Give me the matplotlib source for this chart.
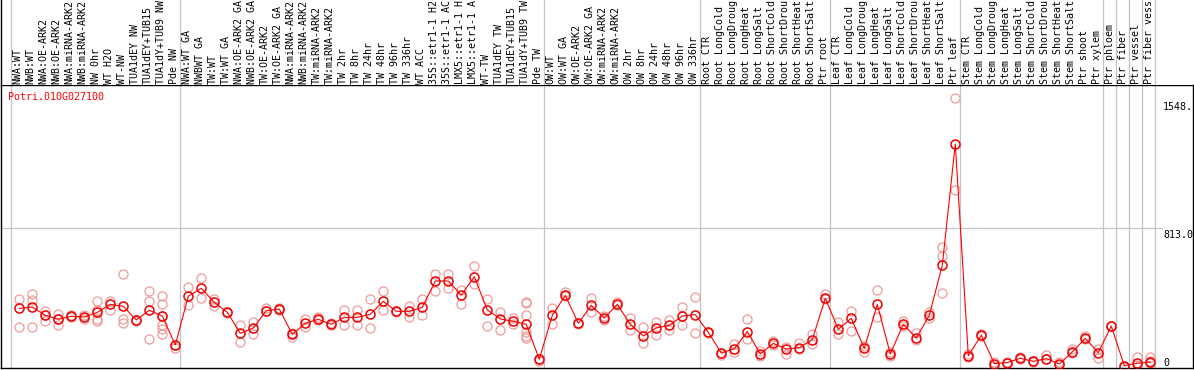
import numpy as np
import matplotlib
matplotlib.use("Agg")
import matplotlib.pyplot as plt
from matplotlib.transforms import offset_copy

gene = "Potri.010G027100"

samples = [
    "NWA:WT", "NWB:WT", "NWA:OE-ARK2", "NWB:OE-ARK2", "NWA:miRNA-ARK2", "NWB:miRNA-ARK2",
    "NW 0hr", "WT H2O", "WT-NW", "TUA1dEY NW", "TUA1dEY+TUB15", "TUA1dY+TUB9 NW", "Pde NW",
    "NWA:WT GA", "NWBWT GA", "TW:WT", "TW:WT GA", "NWA:OE-ARK2 GA", "NWB:OE-ARK2 GA",
    "TW:OE-ARK2", "TW:OE-ARK2 GA", "NWA:miRNA-ARK2", "NWB:miRNA-ARK2", "TW:miRNA-ARK2",
    "TW:miRNA-ARK2", "TW 2hr", "TW 8hr", "TW 24hr", "TW 48hr", "TW 96hr", "TW 336hr",
    "WT ACC", "35S::etr1-1 H2", "35S::etr1-1 AC", "LMX5::etr1-1 H", "LMX5::etr1-1 A",
    "WT-TW", "TUA1dEY TW", "TUA1dEY+TUB15", "TUA1dY+TUB9 TW", "Pde TW",
    "OW:WT", "OW:WT GA", "OW:OE-ARK2", "OW:OE-ARK2 GA", "OW:miRNA-ARK2", "OW:miRNA-ARK2",
    "OW 2hr", "OW 8hr", "OW 24hr", "OW 48hr", "OW 96hr", "OW 336hr",
    "Root CTR", "Root LongCold", "Root LongDroug", "Root LongHeat", "Root LongSalt",
    "Root ShortCold", "Root ShortDrou", "Root ShortHeat", "Root ShortSalt", "Ptr root",
    "Leaf CTR", "Leaf LongCold", "Leaf LongDroug", "Leaf LongHeat", "Leaf LongSalt",
    "Leaf ShortCold", "Leaf ShortDrou", "Leaf ShortHeat", "Leaf ShortSalt", "Ptr leaf",
    "Stem CTR", "Stem LongCold", "Stem LongDroug", "Stem LongHeat", "Stem LongSalt",
    "Stem ShortCold", "Stem ShortDrou", "Stem ShortHeat", "Stem ShortSalt", "Ptr shoot",
    "Ptr xylem", "Ptr phloem", "Ptr fiber", "Ptr vessel", "Ptr fiber vess",
]

means = [
    350, 358, 310, 287, 304, 300, 327, 373, 362, 283, 339, 306, 139,
    420, 466, 385, 327, 206, 237, 337, 346, 200, 264, 287, 258, 298, 298, 316,
    391, 333, 333, 356, 508, 508, 427, 533, 341, 289, 275, 258, 56,
    310, 425, 264, 368, 294, 373, 258, 191, 237, 252, 306, 314,
    212, 92, 117, 216, 87, 148, 115, 123, 169, 408,
    229, 293, 119, 373, 87, 258, 179, 310, 599, 1299,
    77, 195, 31, 37, 62, 44, 60, 29, 98, 177, 94, 248, 19, 33, 40,
]

replicates = [
    [402, 242], [433, 397, 242], [335, 310, 275], [318, 287, 252], [310, 300],
    [312, 287], [391, 342, 287, 279], [393, 342], [547, 289, 266], [283, 280],
    [449, 394, 173], [420, 373, 304, 254, 231, 204], [139, 123],
    [472, 368], [524, 408], [404, 364], [330, 325], [252, 158], [271, 200],
    [350, 337], [350, 341], [210, 187], [290, 244], [302, 281], [266, 252],
    [339, 256], [339, 256], [402, 235], [449, 339], [336, 330], [365, 300],
    [402, 314], [548, 450], [548, 466], [458, 373], [593, 489], [402, 248],
    [327, 225], [296, 260], [389, 379, 310, 212, 191, 177], [56, 46],
    [352, 262], [446, 420], [266, 262], [410, 331], [306, 281], [389, 370],
    [294, 227], [242, 148], [271, 196], [281, 227], [358, 252], [416, 210],
    [214, 210], [92, 81], [144, 100], [289, 171], [106, 73], [162, 140],
    [127, 85], [148, 115], [204, 146], [433, 402],
    [270, 200], [335, 219], [133, 96], [456, 300], [96, 75], [279, 248],
    [206, 167], [327, 296], [703, 653, 437], [1563, 1033],
    [87, 68], [202, 191], [39, 17], [39, 35], [71, 58], [46, 42], [81, 56],
    [39, 21], [115, 94], [189, 171], [114, 62], [250, 246], [19, 14],
    [69, 23], [68, 46, 33],
]

# last sample index of each block (gray separators)
group_ends = [12, 40, 52, 62, 72, 83, 84, 85, 86, 87]
y_ticks = [1548, 813, 0]
y_tick_labels = ["1548.", "813.0", "0"]

W, H = 1194, 370
fig = plt.figure(figsize=(W / 100, H / 100), dpi=100)
plt.rcParams["font.family"] = "DejaVu Sans Mono"
fs = 7.2
grid_c = "#c4c4c4"
rep_c = "#f09a9a"

xlim = ((1 - 19.3) / 13, (1193 - 19.3) / 13)
ax = fig.add_axes([1 / W, 2 / H, 1192 / W, 283 / H])
hx = fig.add_axes([1 / W, 285 / H, 1192 / W, 85 / H], sharex=ax)
ax.set_xlim(*xlim)
ax.set_ylim((369 - 368) / 0.1732, (369 - 85) / 0.1732)
hx.set_ylim(85, 0)

for a in (ax, hx):
    a.set_xticks([])
    a.set_yticks([])
    for s in a.spines.values():
        s.set_color("black")
        s.set_linewidth(1.0)
for s in ("top", "right", "bottom"):
    hx.spines[s].set_visible(False)

# separators
seps = [-0.66] + [c + 0.36 for c in group_ends]
for xs in seps:
    ax.axvline(xs, color=grid_c, lw=0.9, zorder=1)
    hx.axvline(xs, color=grid_c, lw=0.9, zorder=1)
ax.axhline(813, xmin=0, xmax=(1162 - 1) / 1192, color=grid_c, lw=0.9, zorder=1)

x = np.arange(len(samples))
for i, reps in enumerate(replicates):
    ax.plot([i] * len(reps), reps, "o", ms=6.5, mfc="none", mec=rep_c, mew=0.9, zorder=2)
ax.plot(x, means, "-", color="red", lw=0.8, zorder=3)
ax.plot(x, means, "o", ms=6.5, mfc="none", mec="#ee0000", mew=1.1, zorder=4)

# sample labels
for i, name in enumerate(samples):
    hx.text(i - 0.12, 84, name, rotation=90, ha="center", va="bottom",
            fontsize=fs, color="black")

# gene name
ax.text((8 - 19.3) / 13, (369 - 97) / 0.1732, gene, color="red", fontsize=fs,
        ha="left", va="center")

# value labels on the right
tx = (1163 - 19.3) / 13
for v, lab in zip(y_ticks, y_tick_labels):
    if v == 0:
        tr = offset_copy(ax.transData, fig=fig, x=0, y=3.5, units="dots")
        ax.text(tx, v, lab, transform=tr, fontsize=fs, ha="left", va="baseline", clip_on=False)
    else:
        tr = offset_copy(ax.transData, fig=fig, x=0, y=-1.5, units="dots")
        ax.text(tx, v, lab, transform=tr, fontsize=fs, ha="left", va="top")

fig.savefig("out.png", dpi=100)
